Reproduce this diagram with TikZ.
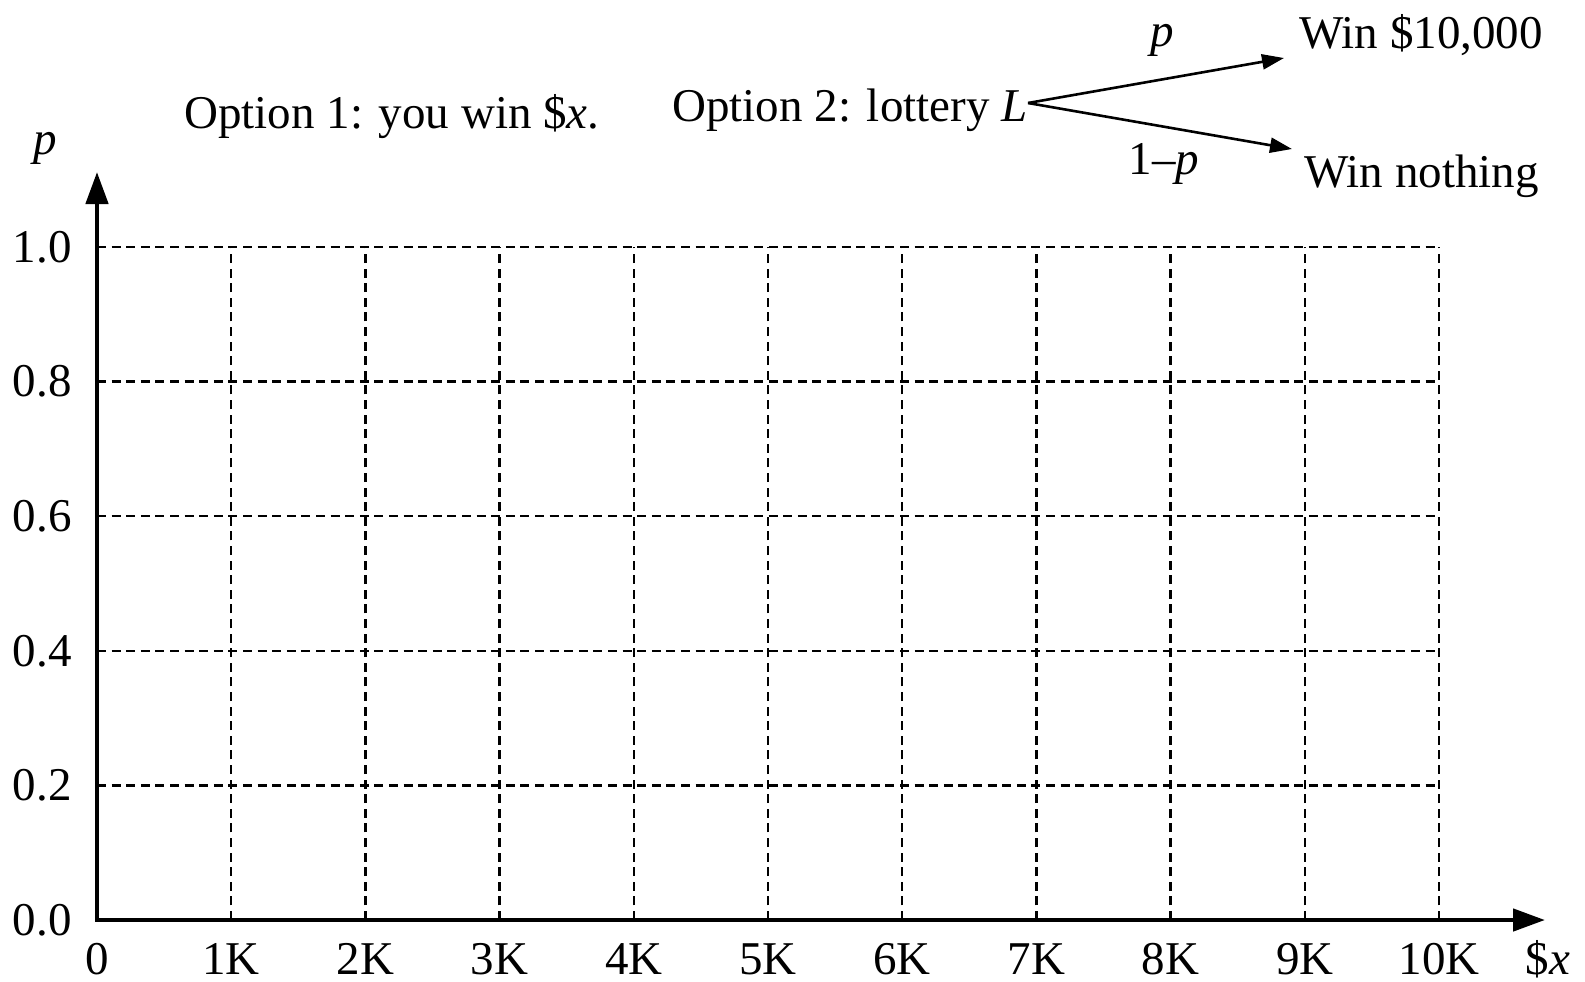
\documentclass[tikz,border=0pt]{standalone}
\usepackage{fontspec}
\setmainfont{Liberation Serif}
\usetikzlibrary{arrows.meta}
\begin{document}
\begin{tikzpicture}[x=0.5pt,y=-0.5pt,
  lbl/.style={inner sep=0pt,font=\fontsize{23.5}{28}\selectfont},
  axisline/.style={line width=2.3pt,{Triangle[length=16pt,width=11pt]}-{Triangle[length=16pt,width=11pt]}},
  gridline/.style={line width=1.2pt,dash pattern=on 4.5pt off 2.8pt},
  branch/.style={line width=1.3pt,-{Triangle[length=11pt,width=7.5pt]}}]
\useasboundingbox (0,0) rectangle (1585,981);
% grid
\foreach \i in {1,...,10}
  \draw[gridline] ({97+134.2*\i},920) -- ({97+134.2*\i},247);
\foreach \j in {1,...,5}
  \draw[gridline] (97,{920-134.6*\j}) -- (1439,{920-134.6*\j});
% axes
\coordinate (origin) at (97,920);
\coordinate (ytip) at (97,172);
\coordinate (xtip) at (1545,920);
\draw[axisline] (ytip) -- (origin) -- (xtip);
% y tick labels
\foreach \j/\t in {0/0.0,1/0.2,2/0.4,3/0.6,4/0.8,5/1.0}
  \node[lbl,anchor=east] (yl\j) at (72,{920-134.6*\j}) {\t};
% x tick labels
\node[lbl,anchor=base] (xl0) at (97,974) {0};
\foreach \i in {1,...,10}
  \node[lbl,anchor=base] (xl\i) at ({97+134.2*\i},974) {\i K};
\node[lbl,anchor=base] (xname) at (1548,974) {\$\textit{x}};
\node[lbl,anchor=base] (yname) at (45,154) {\textit{p}};
% options
\node[lbl,anchor=base west] (opt1) at (184,128) {Option 1: you win \$\textit{x}.};
\node[lbl,anchor=base west] (opt2) at (672,121) {Option 2: lottery \textit{L}};
\coordinate (split) at (1028,103);
\coordinate (tipwin) at (1284,58);
\coordinate (tipnone) at (1292,149);
\draw[branch] (split) -- (tipwin);
\draw[branch] (split) -- (tipnone);
\node[lbl,anchor=base west] (win) at (1299,48) {Win \$10,000};
\node[lbl,anchor=base west] (none) at (1304,187) {Win nothing};
\node[lbl,anchor=base] (plbl) at (1162,46) {\textit{p}};
\node[lbl,anchor=base] (qlbl) at (1164,174) {1–\textit{p}};
\end{tikzpicture}
\end{document}
